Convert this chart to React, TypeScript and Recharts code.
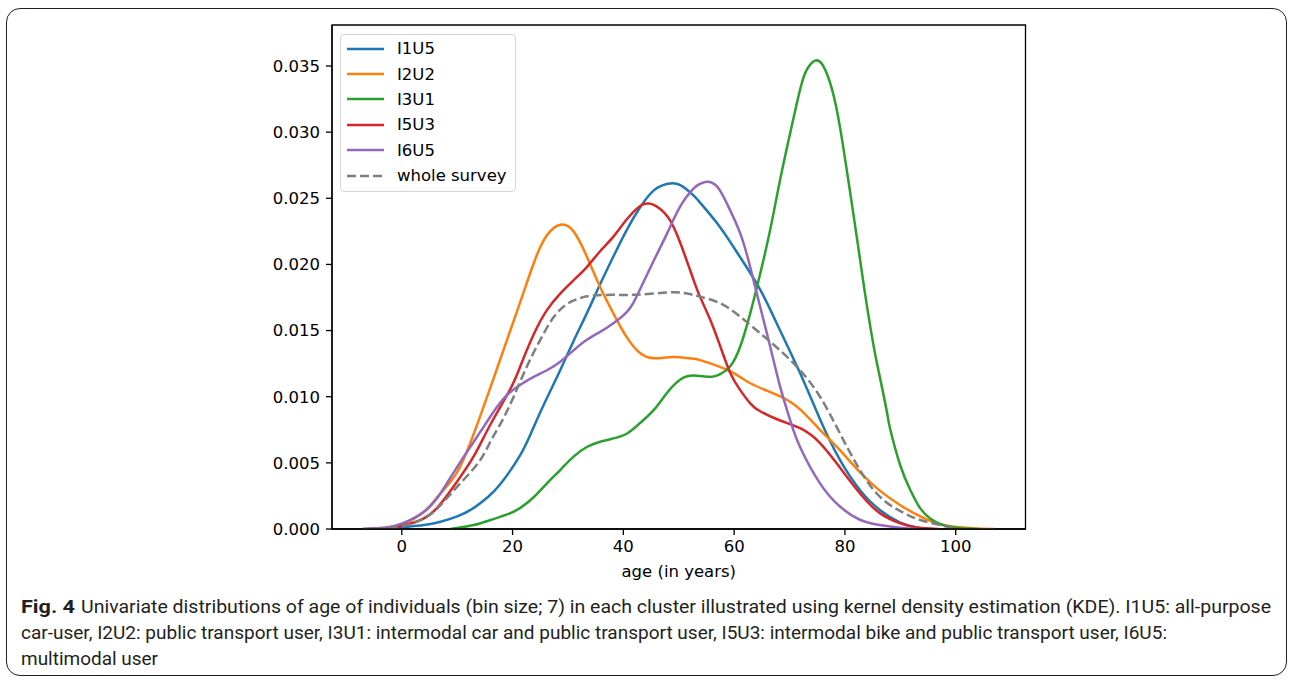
import { LineChart, Line, XAxis, YAxis, ReferenceArea, Legend } from "recharts";

// [age, density]
const i1u5: [number, number][] = [
  [-3, 0], [0, 0.00013], [4, 0.0003], [7, 0.00055], [10, 0.00095], [13, 0.0016], [15.5, 0.0024],
  [17.8, 0.0034], [21.4, 0.0056], [23.8, 0.0077], [26.2, 0.0099], [28.6, 0.012], [31, 0.0142],
  [33.4, 0.0163], [35.8, 0.0185], [38.2, 0.0206], [40.6, 0.0226], [43, 0.0243], [45.5, 0.0256],
  [48, 0.0261], [50.3, 0.026], [52.7, 0.0252], [54, 0.0246], [57.5, 0.0228], [61, 0.0206],
  [64.7, 0.0181], [68.3, 0.015], [72, 0.0117], [75.5, 0.0083], [79, 0.0053], [82.7, 0.00295],
  [86.3, 0.00144], [90, 0.00048], [93, 0.00012], [96, 0],
];

const i2u2: [number, number][] = [
  [-7, 0], [-3, 0.0001], [0, 0.00035], [4, 0.0013], [7, 0.0027], [10, 0.0043], [13, 0.0072],
  [16, 0.0107], [19, 0.0143], [21.5, 0.0173], [24, 0.0203], [26.2, 0.0222], [28.6, 0.023],
  [31, 0.0225], [33.4, 0.0206], [35.8, 0.0183], [38.2, 0.0163], [40.6, 0.0145], [43, 0.0133],
  [45.5, 0.0129], [49, 0.013], [52, 0.0129], [54, 0.01275], [59.4, 0.0119], [63, 0.011],
  [68.4, 0.01], [72, 0.009], [75.5, 0.0075], [79, 0.006], [82.7, 0.0043], [86.3, 0.0029],
  [90, 0.0018], [93.6, 0.00095], [97.2, 0.00035], [100.8, 0.00013], [104, 0.00003], [107, 0],
];

const i3u1: [number, number][] = [
  [8.8, 0], [13, 0.0003], [16, 0.00068], [19, 0.0011], [21.4, 0.0016], [23.8, 0.0024],
  [26.2, 0.00345], [28.6, 0.00446], [31, 0.00547], [33.4, 0.0062], [35.8, 0.0066],
  [38.2, 0.00685], [40.6, 0.0072], [43, 0.008], [45.5, 0.009], [47.9, 0.0103], [50.3, 0.0113],
  [52.7, 0.0116], [55.7, 0.0115], [57.5, 0.0117], [59.3, 0.0123], [61.1, 0.0138], [62.9, 0.0163],
  [64.7, 0.0193], [66.5, 0.0226], [68.3, 0.0264], [70.1, 0.0299], [71.9, 0.0332], [73.1, 0.0347],
  [74.6, 0.0354], [76.1, 0.035], [77.7, 0.0332], [79.1, 0.0304], [80.6, 0.0264], [82.2, 0.0219],
  [83.7, 0.0176], [85.2, 0.0138], [86.3, 0.0115], [87.6, 0.0088], [88.2, 0.0075], [90, 0.0048],
  [91.8, 0.00295], [93.6, 0.00156], [95.4, 0.0008], [97.2, 0.00038], [99, 0.00017],
  [101, 0.00005], [104, 0],
];

const i5u3: [number, number][] = [
  [-6, 0], [-3, 0.00005], [0, 0.00025], [4, 0.0008], [7, 0.0019], [10, 0.0036], [13, 0.0055],
  [16, 0.0079], [19.5, 0.0105], [21.4, 0.0123], [23.8, 0.0147], [26.2, 0.01655], [28.6, 0.0178],
  [31, 0.0188], [33.4, 0.0198], [35.8, 0.021], [38.2, 0.0221], [40.6, 0.0234], [43, 0.0244],
  [44.3, 0.0246], [45.5, 0.0245], [48, 0.0236], [50.3, 0.0216], [52.7, 0.0188], [54, 0.0174],
  [55.7, 0.0158], [57.5, 0.0138], [59.3, 0.0118], [61.1, 0.0105], [62.9, 0.0095], [64.7, 0.0089],
  [68.3, 0.0082], [72, 0.0076], [75.5, 0.0065], [79, 0.0047], [82.7, 0.0027], [86.3, 0.0012],
  [90, 0.00043], [93, 0.00012], [97, 0],
];

const i6u5: [number, number][] = [
  [-7, 0], [-3, 0.0001], [0, 0.0004], [4, 0.0013], [7, 0.0027], [10, 0.0047], [13, 0.0066],
  [16, 0.0085], [18.7, 0.01], [21.4, 0.0109], [23.8, 0.0115], [26.2, 0.012], [28.6, 0.01265],
  [31, 0.0135], [33.4, 0.0143], [35.8, 0.0149], [38.2, 0.01555], [40.6, 0.0164], [41.8, 0.0171],
  [43, 0.0181], [45.5, 0.0203], [47.9, 0.02235], [50.3, 0.0244], [52.7, 0.02575], [53.9, 0.0261],
  [55.1, 0.02625], [56.9, 0.0259], [58.7, 0.0246], [61.1, 0.02235], [62.9, 0.0198], [64.7, 0.0168],
  [66.5, 0.0138], [68.3, 0.01076], [70.1, 0.00824], [71.9, 0.0062], [75.5, 0.00345], [79.1, 0.0017],
  [82.7, 0.0007], [86.3, 0.0003], [90, 0.0001], [93, 0],
];

const wholeSurvey: [number, number][] = [
  [-7, 0], [-3, 0.00005], [0, 0.0002], [4, 0.0008], [7, 0.0018], [10, 0.0032], [13.8, 0.005],
  [16, 0.0066], [18, 0.0081], [20.2, 0.01], [22.6, 0.0123], [25, 0.0143], [27.4, 0.016],
  [29.8, 0.017], [32.2, 0.01745], [34.6, 0.01765], [38.2, 0.0177], [41.8, 0.0177], [45.5, 0.0178],
  [49.1, 0.0179], [51.5, 0.0178], [53.9, 0.01756], [57.5, 0.01706], [61.1, 0.01605], [64.7, 0.0148],
  [68.3, 0.0135], [71.9, 0.012], [75.5, 0.01], [79.1, 0.00723], [82.7, 0.00446], [86.3, 0.00244],
  [90, 0.00135], [93.6, 0.00068], [97.2, 0.0003], [100, 0],
];

const xTicks = [0, 20, 40, 60, 80, 100];
const yTicks = [0, 0.005, 0.01, 0.015, 0.02, 0.025, 0.03, 0.035];

const seriesList = [
  { name: "I1U5", data: i1u5, color: "#1f77b4" },
  { name: "I2U2", data: i2u2, color: "#ff7f0e" },
  { name: "I3U1", data: i3u1, color: "#2ca02c" },
  { name: "I5U3", data: i5u3, color: "#d62728" },
  { name: "I6U5", data: i6u5, color: "#9467bd" },
  { name: "whole survey", data: wholeSurvey, color: "#7f7f7f", dash: "9 4" },
];

const X_MIN = -12.6;
const X_MAX = 112.6;
const Y_MAX = 0.0381;

const font = "'DejaVu Sans', sans-serif";
const tickStyle = { fill: "#000", fontSize: 16.5, fontFamily: font };

const toPoints = (rows: [number, number][]) => rows.map(([age, density]) => ({ age, density }));

const KdeLegend = () => (
  <div
    style={{
      width: 176,
      height: 158,
      boxSizing: "border-box",
      border: "1px solid #d4d4d4",
      borderRadius: 4,
      background: "rgba(255,255,255,0.8)",
      paddingTop: 1,
      fontFamily: font,
      fontSize: 16.5,
      color: "#000",
    }}
  >
    {seriesList.map((s) => (
      <div key={s.name} style={{ display: "flex", alignItems: "center", height: 25.4 }}>
        <svg width={56} height={10} style={{ flex: "none" }}>
          <line x1={6} x2={43} y1={5} y2={5} stroke={s.color} strokeWidth={2.5} strokeDasharray={s.dash} />
        </svg>
        <span style={{ whiteSpace: "nowrap" }}>{s.name}</span>
      </div>
    ))}
  </div>
);

const captionFont = "Roboto, 'Noto Sans', sans-serif";

export default function App() {
  return (
    <div style={{ position: "absolute", left: 0, top: 0, width: 1292, height: 681, background: "#fff" }}>
      <div
        style={{
          position: "absolute",
          left: 6,
          top: 8,
          width: 1281,
          height: 668,
          boxSizing: "border-box",
          border: "1.5px solid #231f20",
          borderRadius: 14,
        }}
      />
      <div style={{ position: "absolute", left: 0, top: 0 }}>
        <LineChart width={1292} height={600} margin={{ top: 25, right: 266.5, bottom: 0, left: 0 }}>
          <XAxis
            type="number"
            dataKey="age"
            domain={[X_MIN, X_MAX]}
            allowDataOverflow
            ticks={xTicks}
            height={71}
            tick={tickStyle}
            tickSize={6}
            tickMargin={5}
            axisLine={{ stroke: "#000", strokeWidth: 1.3 }}
            tickLine={{ stroke: "#000", strokeWidth: 1.3 }}
            label={{ value: "age (in years)", position: "insideBottom", offset: 23, fill: "#000", fontSize: 16.5, fontFamily: font }}
          />
          <YAxis
            type="number"
            domain={[0, Y_MAX]}
            allowDataOverflow
            ticks={yTicks}
            width={332}
            tick={tickStyle}
            tickFormatter={(v: number) => v.toFixed(3)}
            tickSize={6}
            tickMargin={6}
            axisLine={{ stroke: "#000", strokeWidth: 1.3 }}
            tickLine={{ stroke: "#000", strokeWidth: 1.3 }}
          />
          {seriesList.map((s) => (
            <Line
              key={s.name}
              name={s.name}
              data={toPoints(s.data)}
              dataKey="density"
              type="natural"
              stroke={s.color}
              strokeWidth={2.5}
              strokeDasharray={s.dash}
              dot={false}
              activeDot={false}
              isAnimationActive={false}
            />
          ))}
          <ReferenceArea x1={X_MIN} x2={X_MAX} y1={0} y2={Y_MAX} fill="none" stroke="#000" strokeWidth={1.3} />
          <Legend
            layout="horizontal"
            verticalAlign="middle"
            align="center"
            content={() => <KdeLegend />}
            wrapperStyle={{ left: 340, top: 34, width: 176 }}
          />
        </LineChart>
      </div>
      <svg style={{ position: "absolute", left: 0, top: 590 }} width={1292} height={85}>
        <g fill="#231f20" fontFamily={captionFont} fontSize={19}>
          <text x={21} y={23} fontWeight="bold" textLength={54} lengthAdjust="spacingAndGlyphs">
            Fig. 4
          </text>
          <text x={81} y={23} textLength={1190} lengthAdjust="spacingAndGlyphs">
            Univariate distributions of age of individuals (bin size; 7) in each cluster illustrated using kernel density estimation (KDE). I1U5: all-purpose
          </text>
          <text x={21} y={49} textLength={1146} lengthAdjust="spacingAndGlyphs">
            car-user, I2U2: public transport user, I3U1: intermodal car and public transport user, I5U3: intermodal bike and public transport user, I6U5:
          </text>
          <text x={21} y={75} textLength={137} lengthAdjust="spacingAndGlyphs">
            multimodal user
          </text>
        </g>
      </svg>
    </div>
  );
}
